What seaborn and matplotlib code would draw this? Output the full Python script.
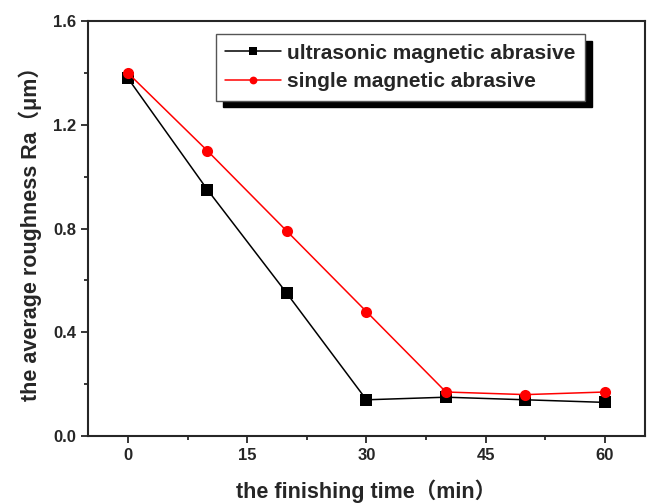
import matplotlib
matplotlib.use("Agg")
import matplotlib.pyplot as plt
import seaborn as sns
import pandas as pd
from matplotlib.ticker import MultipleLocator

time_min = [0, 10, 20, 30, 40, 50, 60]
ultrasonic = [1.38, 0.95, 0.55, 0.14, 0.15, 0.14, 0.13]
single = [1.40, 1.10, 0.79, 0.48, 0.17, 0.16, 0.17]
series_names = ["ultrasonic magnetic abrasive", "single magnetic abrasive"]

df = pd.concat([
    pd.DataFrame({"t": time_min, "Ra": ultrasonic, "s": series_names[0]}),
    pd.DataFrame({"t": time_min, "Ra": single, "s": series_names[1]}),
])

sns.set_style("ticks")
plt.rcParams['font.family'] = ['Liberation Sans', 'DejaVu Sans']
plt.rcParams['font.weight'] = 'bold'

fig = plt.figure(figsize=(6.48, 5.03), dpi=100)
ax = fig.add_axes([0.136, 0.133, 0.859, 0.825])

sns.lineplot(data=df, x="t", y="Ra", hue="s", style="s",
             palette={series_names[0]: "black", series_names[1]: "red"},
             markers={series_names[0]: "s", series_names[1]: "o"},
             dashes=False, markersize=8, markeredgewidth=0, linewidth=1.1,
             ax=ax)

ax.set_xlim(-5, 65)
ax.set_ylim(0, 1.6)
ax.xaxis.set_major_locator(MultipleLocator(15))
ax.xaxis.set_minor_locator(MultipleLocator(7.5))
ax.yaxis.set_major_locator(MultipleLocator(0.4))
ax.yaxis.set_minor_locator(MultipleLocator(0.2))
ax.yaxis.set_major_formatter(matplotlib.ticker.FormatStrFormatter('%.1f'))
ax.tick_params(axis='both', which='major', direction='out', length=5, width=1.3, labelsize=12)
ax.tick_params(axis='both', which='minor', direction='out', length=3, width=1.3)
for lbl in ax.get_xticklabels() + ax.get_yticklabels():
    lbl.set_fontweight('bold')
for sp in ax.spines.values():
    sp.set_linewidth(1.5)
    sp.set_visible(True)

ax.set_xlabel("the finishing time\uff08min\uff09", fontsize=15.5, fontweight='bold', labelpad=12,
              fontfamily=['Liberation Sans', 'Noto Sans CJK SC'])
ax.set_ylabel("the average roughness Ra\uff08\u03bcm\uff09", fontsize=15.5, fontweight='bold', labelpad=8,
              fontfamily=['Liberation Sans', 'Noto Sans CJK SC'])

leg = ax.legend(loc='upper left', bbox_to_anchor=(0.229, 0.968), fontsize=15, frameon=True,
                fancybox=False, shadow={'color': 'black', 'alpha': 1, 'ox': 5, 'oy': -5},
                edgecolor='#555555', markerscale=0.7,
                handlelength=2.7, borderpad=0.45, labelspacing=0.45, handletextpad=0.3,
                borderaxespad=0)
leg.get_frame().set_linewidth(1.0)
for t in leg.get_texts():
    t.set_fontweight('bold')

fig.savefig("out.png", dpi=100)
